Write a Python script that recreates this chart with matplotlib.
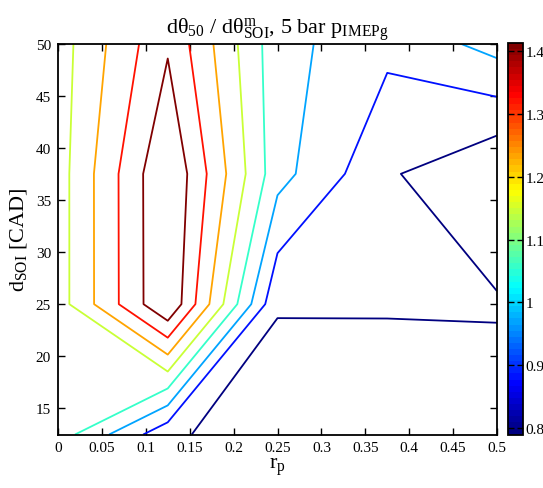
import numpy as np
import matplotlib
matplotlib.use("Agg")
import matplotlib.pyplot as plt
from matplotlib import cm, colors
from matplotlib.ticker import FuncFormatter

plt.rcParams['font.family'] = ['Liberation Serif', 'DejaVu Serif']
plt.rcParams['mathtext.fontset'] = 'custom'
plt.rcParams['mathtext.rm'] = 'Liberation Serif'
plt.rcParams['mathtext.it'] = 'Liberation Serif:italic'
plt.rcParams['mathtext.bf'] = 'Liberation Serif:bold'

# Grid of residual fraction and SOI duration
r_p = [0.0, 0.125, 0.25, 0.375, 0.5]
d_soi = [12.5, 25.0, 37.5, 50.0]

# Sensitivity ratio, one row per d_SOI value
ratio_d12_5 = [1.1012, 0.8784, 0.7898, 0.7919, 0.8133]
ratio_d25 = [1.1040, 1.4112, 0.8673, 0.8673, 0.8666]
ratio_d37_5 = [1.1040, 1.4126, 1.0230, 0.8687, 0.7905]
ratio_d50 = [1.1033, 1.3344, 1.0230, 0.9455, 1.0237]

x_ticks = [0, 0.05, 0.1, 0.15, 0.2, 0.25, 0.3, 0.35, 0.4, 0.45, 0.5]
y_ticks = [15, 20, 25, 30, 35, 40, 45, 50]
cbar_ticks = [0.8, 0.9, 1.0, 1.1, 1.2, 1.3, 1.4]


def classic_jet(n):
    f = np.linspace(0, 1, n)
    r = np.clip(1.5 - np.abs(4 * f - 3), 0, 1)
    g = np.clip(1.5 - np.abs(4 * f - 2), 0, 1)
    b = np.clip(1.5 - np.abs(4 * f - 1), 0, 1)
    return np.column_stack([r, g, b])


Z = np.array([ratio_d12_5, ratio_d25, ratio_d37_5, ratio_d50])
X, Y = np.meshgrid(r_p, d_soi)
zmin, zmax = Z.min(), Z.max()
levels = np.linspace(zmin, zmax, 10)[1:-1]

W, H = 543, 489
fig = plt.figure(figsize=(W / 100, H / 100), dpi=100)
ax = fig.add_axes([58 / W, 1 - 435.5 / H, (497 - 58) / W, (435.5 - 44.5) / H])
cax = fig.add_axes([507.5 / W, 1 - 435.7 / H, 15 / W, (435.7 - 44.0) / H])

line_cmap = colors.LinearSegmentedColormap.from_list('cjet', classic_jet(256))
ax.contour(X, Y, Z, levels=levels, cmap=line_cmap, linewidths=1.3)

ax.set_xlim(0, 0.5)
ax.set_ylim(12.5, 50)
ax.set_xticks(x_ticks)
ax.set_yticks(y_ticks)
ax.xaxis.set_major_formatter(FuncFormatter(lambda v, p: ('%g' % round(v, 3))))
ax.tick_params(direction='in', length=5, width=1, top=True, right=True,
               labelsize=11, pad=5)
for s in ax.spines.values():
    s.set_linewidth(1.3)

ax.set_title('dθ$_{\\mathrm{50}}$ / dθ$^{\\mathrm{m}}_{\\mathrm{SOI}}$, 5 bar p$_{\\mathrm{IMEPg}}$',
             fontsize=16, pad=7)
ax.set_xlabel(r'r$_{\mathrm{p}}$', fontsize=16, labelpad=1)
ax.set_ylabel(r'd$_{\mathrm{SOI}}$ [CAD]', fontsize=16, labelpad=5)

bar_cmap = colors.ListedColormap(classic_jet(64))
sm = cm.ScalarMappable(norm=colors.Normalize(zmin, zmax), cmap=bar_cmap)
cb = fig.colorbar(sm, cax=cax)
cb.set_ticks(cbar_ticks)
cb.ax.yaxis.set_major_formatter(FuncFormatter(lambda v, p: '%g' % round(v, 3)))
cb.ax.tick_params(direction='in', length=4, width=1, left=True, right=True,
                  labelsize=11, pad=2)
cb.outline.set_linewidth(1.3)

fig.savefig('out.png', dpi=100)
